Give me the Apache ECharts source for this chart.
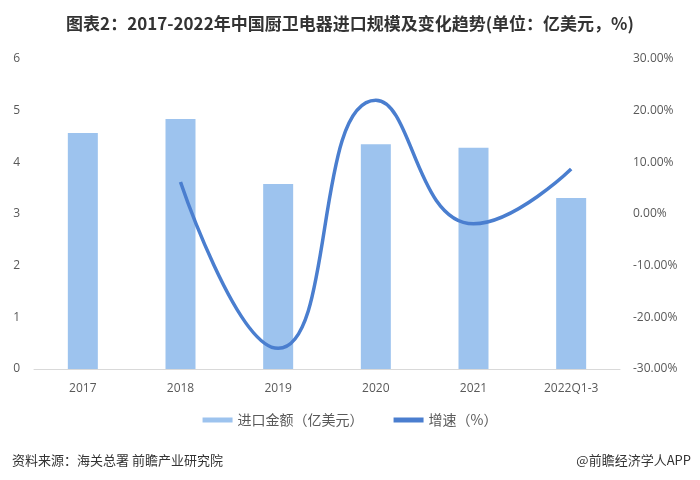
<!DOCTYPE html>
<html><head><meta charset="utf-8">
<script src="https://cdn.jsdelivr.net/npm/echarts@6/dist/echarts.min.js"></script>
<style>html,body{margin:0;padding:0;background:#fff}#c{width:700px;height:480px}</style>
</head><body><div id="c"></div>
<script>
const categories = ['2017','2018','2019','2020','2021','2022Q1-3'];
const importValue = [4.57, 4.84, 3.58, 4.35, 4.28, 3.31];
const growthRate = [null, 6.2, -26.0, 22.0, -1.9, 8.7];
const leftTicks = [0, 6, 1];
const rightTicks = [-30, 30, 10];

const chart = echarts.init(document.getElementById('c'));
const font = '"Noto Sans CJK SC","Microsoft YaHei",sans-serif';
chart.setOption({
  animation: false,
  backgroundColor: '#fff',
  title: [{
    text: '图表2：2017-2022年中国厨卫电器进口规模及变化趋势(单位：亿美元，%)',
    left: 'center', top: 10,
    textStyle: {fontFamily: font, fontSize: 17, fontWeight: 'bold', color: '#333'}
  },{
    text: '资料来源：海关总署 前瞻产业研究院',
    left: 7, top: 449,
    textStyle: {fontFamily: font, fontSize: 13, fontWeight: 'normal', color: '#333'}
  },{
    text: '@前瞻经济学人APP',
    right: 4, top: 449,
    textStyle: {fontFamily: font, fontSize: 13, fontWeight: 'normal', color: '#333'}
  }],
  legend: {
    left: 'center', top: 408, itemGap: 30, itemWidth: 30, itemHeight: 5,
    textStyle: {fontFamily: font, fontSize: 14, color: '#595959'},
    data: [{name: '进口金额（亿美元）', icon: 'rect'}, {name: '增速（%）', icon: 'rect'}]
  },
  grid: {left: 34, right: 80, top: 59, bottom: 111},
  xAxis: {
    type: 'category', data: categories,
    axisLine: {lineStyle: {color: '#d9d9d9'}},
    axisTick: {show: false},
    axisLabel: {color: '#595959', fontSize: 12, margin: 14, fontFamily: 'Open Sans, sans-serif'}
  },
  yAxis: [{
    type: 'value', min: leftTicks[0], max: leftTicks[1], interval: leftTicks[2],
    splitLine: {show: false}, axisLine: {show: false}, axisTick: {show: false},
    axisLabel: {color: '#595959', fontSize: 12, margin: 14, fontFamily: 'Open Sans, sans-serif'}
  },{
    type: 'value', min: rightTicks[0], max: rightTicks[1], interval: rightTicks[2],
    splitLine: {show: false}, axisLine: {show: false}, axisTick: {show: false},
    axisLabel: {color: '#595959', fontSize: 12, margin: 13, fontFamily: 'Open Sans, sans-serif',
      formatter: v => v.toFixed(2) + '%'}
  }],
  series: [{
    name: '进口金额（亿美元）', type: 'bar', data: importValue, barWidth: 30,
    itemStyle: {color: '#9dc3ee'}
  },{
    name: '增速（%）', type: 'line', yAxisIndex: 1, data: growthRate,
    smooth: 0.5, showSymbol: false, symbol: 'none', connectNulls: false,
    lineStyle: {color: '#4a7ecf', width: 3.5},
    itemStyle: {color: '#4a7ecf'}
  }]
});
</script></body></html>
